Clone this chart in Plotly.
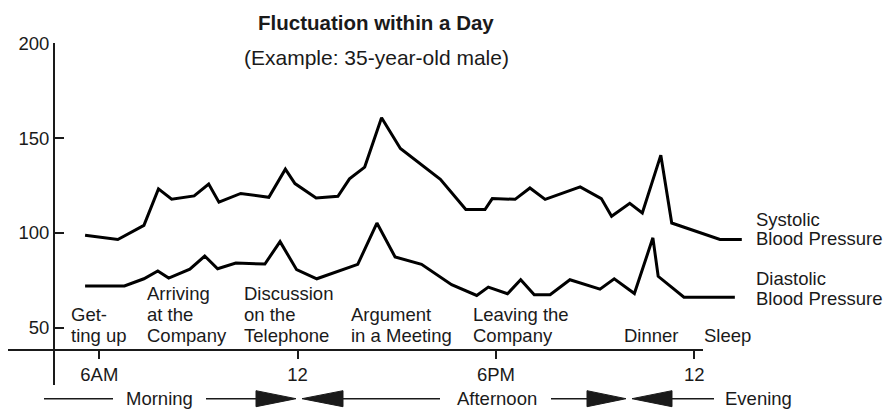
import plotly.graph_objects as go

W, H = 885, 409

# ---- data (hour of day, mmHg) ----
sys_hours = [5.57, 6.56, 7.35, 7.79, 8.19, 8.87, 9.31, 9.62, 10.28, 11.13, 11.63, 11.92,
             12.56, 13.22, 13.57, 14.03, 14.54, 15.11, 16.32, 17.09, 17.67, 17.89, 18.58,
             19.03, 19.49, 20.55, 21.19, 21.50, 22.05, 22.43, 22.99, 23.32, 24.78, 25.44]
sys_vals = [98.7, 96.5, 104.0, 123.2, 117.8, 119.5, 125.8, 116.2, 120.8, 118.8, 133.6, 126.0,
            118.4, 119.3, 128.5, 134.7, 160.7, 144.5, 128.3, 112.3, 112.3, 118.1, 117.7,
            123.7, 117.7, 124.3, 118.1, 108.8, 115.6, 110.5, 141.0, 105.2, 96.5, 96.5]

dia_hours = [5.57, 6.76, 7.35, 7.77, 8.10, 8.74, 9.19, 9.58, 10.13, 11.01, 11.47, 11.97,
             12.58, 13.82, 14.40, 14.95, 15.75, 16.66, 17.42, 17.77, 18.35, 18.75, 19.16,
             19.64, 20.24, 21.15, 21.58, 22.19, 22.75, 22.91, 23.69, 25.23]
dia_vals = [72.0, 72.0, 75.8, 79.9, 76.2, 80.9, 87.8, 81.1, 84.1, 83.6, 95.4, 80.6,
            75.8, 83.4, 105.2, 87.3, 83.4, 72.7, 67.0, 71.4, 67.9, 75.3, 67.4,
            67.4, 75.3, 70.3, 75.8, 68.0, 97.4, 77.1, 66.1, 66.1]

x_tick_vals = [6, 12, 18, 24]
x_tick_text = ["6AM", "12", "6PM", "12"]
y_tick_vals = [50, 100, 150, 200]

title = "Fluctuation within a Day"
subtitle = "(Example: 35-year-old male)"
events = [  # (left px, lines)
    (69, ["Get-", "ting up"]),
    (145, ["Arriving", "at the", "Company"]),
    (242, ["Discussion", "on the", "Telephone"]),
    (349, ["Argument", "in a Meeting"]),
    (471, ["Leaving the", "Company"]),
    (622, ["Dinner"]),
    (702, ["Sleep"]),
]
series_labels = [(["Systolic", "Blood Pressure"], 219), (["Diastolic", "Blood Pressure"], 278.5)]
periods = [("Morning", 159), ("Afternoon", 496.5), ("Evening", 758)]

FONT = "Liberation Sans, Arial, Helvetica, sans-serif"
INK = "#1a1a1a"
FS = 18.5


def px(x):
    return x / W


def py(y):
    return 1 - y / H


fig = go.Figure()
fig.add_trace(go.Scatter(x=sys_hours, y=sys_vals, mode="lines",
                         line=dict(color="black", width=3), hoverinfo="skip"))
fig.add_trace(go.Scatter(x=dia_hours, y=dia_vals, mode="lines",
                         line=dict(color="black", width=3), hoverinfo="skip"))

x_left_px, x_right_px, axis_end_px = 8, 745, 703
hour0_px, px_per_hour = 99.3, 33.05
def hour_at(p):
    return 6 + (p - hour0_px) / px_per_hour

y_top_px, y_bot_px, px_per_unit = 43.3, 385, 1.896
ybot_val = 200 - (y_bot_px - y_top_px) / px_per_unit

fig.update_layout(
    width=W, height=H, autosize=False,
    margin=dict(l=0, r=0, t=0, b=0, pad=0),
    paper_bgcolor="white", plot_bgcolor="rgba(0,0,0,0)",
    showlegend=False,
    font=dict(family=FONT, size=FS, color=INK),
    xaxis=dict(domain=[px(x_left_px), px(x_right_px)],
               range=[hour_at(x_left_px), hour_at(x_right_px)],
               anchor="free", position=py(350), automargin=False,
               showline=False, showgrid=False, zeroline=False,
               tickmode="array", tickvals=x_tick_vals, ticktext=x_tick_text,
               ticks="outside", ticklen=8, tickwidth=2, tickcolor=INK,
               tickfont=dict(family=FONT, size=FS, color=INK)),
    yaxis=dict(domain=[py(y_bot_px), py(y_top_px)],
               range=[ybot_val, 200],
               anchor="free", position=px(54), automargin=False,
               showline=True, linewidth=2, linecolor=INK,
               showgrid=False, zeroline=False,
               tickmode="array", tickvals=y_tick_vals,
               ticks="inside", ticklen=9, tickwidth=2, tickcolor=INK,
               tickfont=dict(family=FONT, size=FS, color=INK)),
)

shapes = []
# x-axis baseline
shapes.append(dict(type="line", xref="paper", yref="paper",
                   x0=px(x_left_px), x1=px(axis_end_px), y0=py(350), y1=py(350),
                   line=dict(color=INK, width=2)))

# period arrows
ay = 398.7
half = 8


def hline(a, b):
    shapes.append(dict(type="line", xref="paper", yref="paper",
                       x0=px(a), x1=px(b), y0=py(ay), y1=py(ay),
                       line=dict(color=INK, width=1.5)))


def tri(base, tip):
    path = "M {:.5f},{:.5f} L {:.5f},{:.5f} L {:.5f},{:.5f} Z".format(
        px(base), py(ay - half), px(tip), py(ay), px(base), py(ay + half))
    shapes.append(dict(type="path", xref="paper", yref="paper", path=path,
                       fillcolor=INK, line=dict(color=INK, width=1)))


hline(44, 113)
hline(206, 256)
tri(256, 296)
tri(343, 302)
hline(343, 440)
hline(551, 587)
tri(587, 626)
tri(672, 632)
hline(672, 714)

ann = []
ann.append(dict(text="<b>" + title + "</b>", x=px(375.5), y=py(23), xref="paper", yref="paper",
                xanchor="center", yanchor="middle", showarrow=False,
                font=dict(family=FONT, size=20.5, color=INK)))
ann.append(dict(text=subtitle, x=px(376), y=py(57), xref="paper", yref="paper",
                xanchor="center", yanchor="middle", showarrow=False,
                font=dict(family=FONT, size=21, color=INK)))

line_step = 20.7
bottom_line_y = 335
for left, lines in events:
    n = len(lines)
    for i, t in enumerate(lines):
        yy = bottom_line_y - (n - 1 - i) * line_step
        ann.append(dict(text=t, x=px(left), y=py(yy), xref="paper", yref="paper",
                        xanchor="left", yanchor="middle", showarrow=False,
                        font=dict(family=FONT, size=FS, color=INK)))

for lines, ytop in series_labels:
    for i, t in enumerate(lines):
        ann.append(dict(text=t, x=px(754), y=py(ytop + i * 19.8), xref="paper", yref="paper",
                        xanchor="left", yanchor="middle", showarrow=False,
                        font=dict(family=FONT, size=FS, color=INK)))

for t, cx in periods:
    ann.append(dict(text=t, x=px(cx), y=py(ay), xref="paper", yref="paper",
                    xanchor="center", yanchor="middle", showarrow=False,
                    font=dict(family=FONT, size=FS, color=INK)))

fig.update_layout(shapes=shapes, annotations=ann)
fig.write_html(
    "out.html",
    config={"displayModeBar": False},
    post_script=("document.body.style.margin='0';document.body.style.padding='0';"
                 "var d=document.getElementById('{plot_id}');"
                 "d.style.position='absolute';d.style.left='0px';d.style.top='0px';"),
)
